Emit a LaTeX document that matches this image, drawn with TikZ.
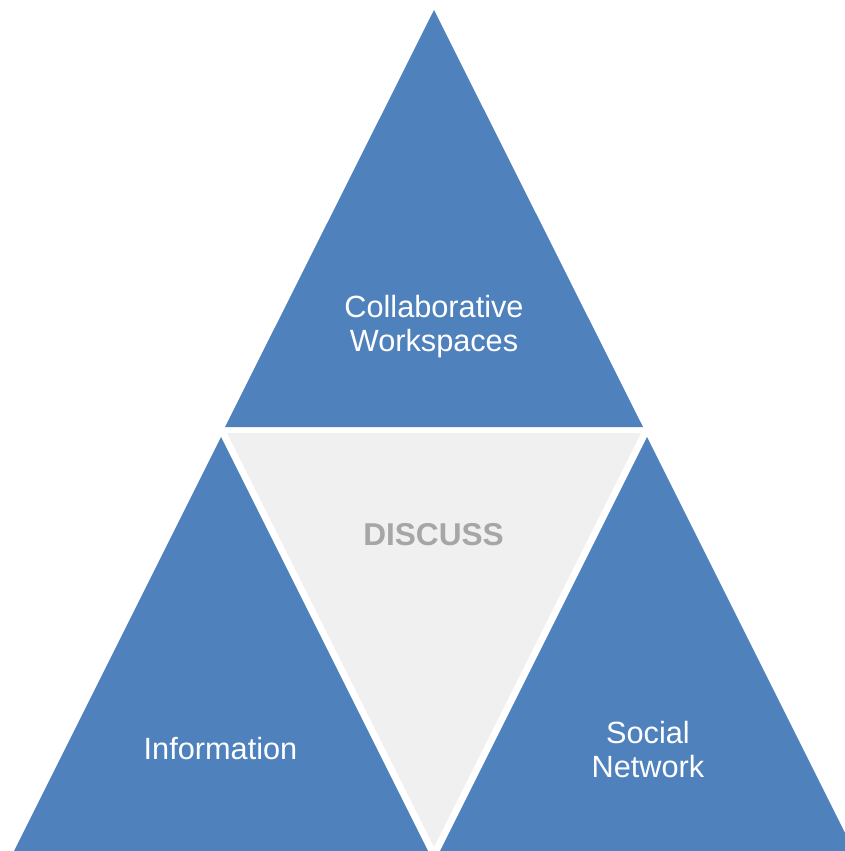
\documentclass[tikz,border=0pt]{standalone}
\usepackage{fontspec}
\setmainfont{Liberation Sans}
\definecolor{blau}{HTML}{4F81BD}
\definecolor{hellgrau}{HTML}{F0F0F0}
\definecolor{textgrau}{HTML}{A6A6A6}
\tikzset{
	dreieck/.style={fill=blau},
	beschriftung/.style={text=white, align=center, font=\fontsize{30.7}{34}\selectfont},
}
\begin{document}
\begin{tikzpicture}[x=1pt, y=-1pt]
		\useasboundingbox (0, 0) rectangle (845, 851);
		\clip (0, 0) rectangle (845, 851);
		% Oberes Dreieck
		\begin{scope}
			\fill [dreieck] (434, 10) -- (643, 427) -- (225, 427) -- cycle;
			\node [beschriftung] (oben) at (434, 326.5) {Collaborative\\Workspaces};
		\end{scope}
		% Linkes Dreieck
		\begin{scope}
			\fill [dreieck] (221, 437) -- (430, 855) -- (12, 855) -- cycle;
			\node [beschriftung] (links) at (220.5, 748.5) {Information};
		\end{scope}
		% Rechtes Dreieck
		\begin{scope}
			\fill [dreieck] (647, 437) -- (856, 855) -- (438, 855) -- cycle;
			\node [beschriftung] (rechts) at (648, 750) {Social\\Network};
		\end{scope}
		% Mittleres Dreieck
		\begin{scope}
			\fill [hellgrau] (227, 433) -- (641, 433) -- (434, 847) -- cycle;
			\node [beschriftung, text=textgrau, font=\fontsize{31.6}{34}\selectfont\bfseries] (mitte) at (433.5, 535) {DISCUSS};
		\end{scope}
	\end{tikzpicture}
\end{document}
